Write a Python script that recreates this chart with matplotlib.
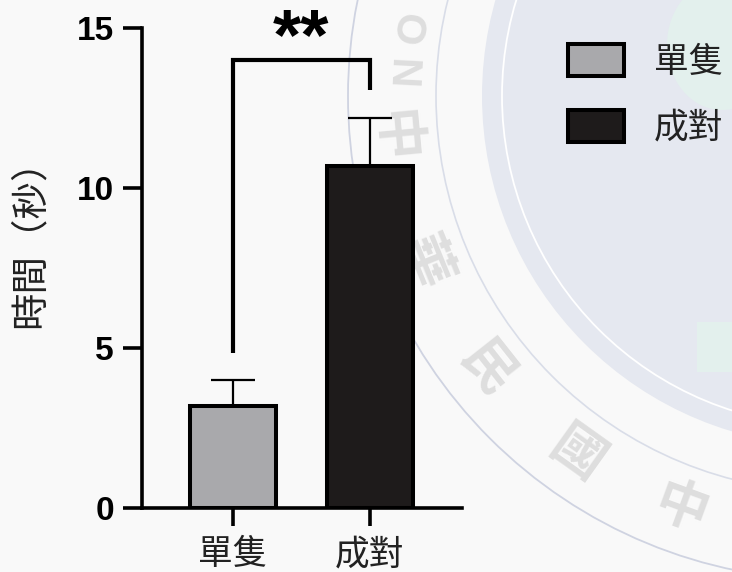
import numpy as np
import matplotlib
matplotlib.use("Agg")
import matplotlib.pyplot as plt
from matplotlib.patches import Circle, Rectangle, Ellipse, Patch
from matplotlib.font_manager import FontProperties

# ---- data ----
groups = ["單隻", "成對"]
mean_time = [3.2, 10.7]
sem_time = [0.8, 1.5]
y_ticks = [0, 5, 10, 15]
y_label = "時間（秒）"
sig_label = "**"
bracket_top = 14.0
bracket_left_end = 4.85
bracket_right_end = 13.05

bar_colors = ["#a9a9ac", "#1e1b1b"]
cjk = FontProperties(family=["Noto Sans CJK TC", "DejaVu Sans"], size=25)
cjk_label = FontProperties(family=["Noto Sans CJK TC", "DejaVu Sans"], size=27)
num_font = dict(family="Liberation Sans", weight="bold")

W, H = 732, 572
fig = plt.figure(figsize=(W / 100, H / 100), dpi=100, facecolor="#f9f9f9")

# ---- faint seal watermark in the background (pixel coordinates) ----
bg = fig.add_axes([0, 0, 1, 1], zorder=0)
bg.set_xlim(0, W)
bg.set_ylim(H, 0)
bg.axis("off")
cx, cy = 832, 96
bg.add_patch(Circle((cx, cy), 484, fill=False, ec="#cfd3e1", lw=1.3))
bg.add_patch(Circle((cx, cy), 396, fill=False, ec="#d9dde8", lw=1.2))
bg.add_patch(Circle((cx, cy), 350, fc="#e5e8f0", ec="none"))
bg.add_patch(Circle((cx, cy), 330, fill=False, ec="white", lw=1.3))
bg.add_patch(Ellipse((722, 45), 110, 130, fc="#e3f0ed", ec="none"))
bg.add_patch(Rectangle((697, 322), 40, 50, fc="#e3f0ed", ec="none"))
seal_chars = ["中", "華", "民", "國", "中"]
seal_angles = [174.7, 157.8, 141.7, 125.5, 110.1]
for ch, th in zip(seal_chars, seal_angles):
    t = np.deg2rad(th)
    px, py = cx + 440 * np.cos(t), cy + 440 * np.sin(t)
    bg.text(px, py, ch, ha="center", va="center", rotation=90 - th,
            fontsize=38, fontweight="bold", color="#dedede",
            family=["Noto Sans CJK TC"])
for ch, th in zip(["O", "N"], [189.0, 183.0]):
    t = np.deg2rad(th)
    px, py = cx + 432 * np.cos(t), cy + 432 * np.sin(t)
    bg.text(px, py, ch, ha="center", va="center", rotation=90 - th,
            fontsize=30, fontweight="bold", color="#dedede",
            family="Liberation Sans")

# ---- main bar chart ----
ax = fig.add_axes([142 / W, 64 / H, 320 / W, 480 / H], zorder=2)
ax.set_facecolor("none")
x = np.arange(len(groups))
ax.bar(x, mean_time, width=0.63, color=bar_colors, edgecolor="black",
       linewidth=2.9, zorder=3)
ax.errorbar(x, mean_time, yerr=[np.zeros(len(x)), sem_time], fmt="none",
            ecolor="black", elinewidth=1.6, capsize=16, capthick=1.6, zorder=2)

ax.plot([x[0], x[0], x[1], x[1]],
        [bracket_left_end, bracket_top, bracket_top, bracket_right_end],
        color="black", lw=3, solid_joinstyle="miter", solid_capstyle="butt",
        clip_on=False, zorder=4)
ax.text((x[0] + x[1]) / 2, 14.62, sig_label, ha="center", va="center",
        fontsize=52, clip_on=False, **num_font)

ax.set_xlim(-0.664, 1.672)
ax.set_ylim(0, 15)
for s in ["top", "right"]:
    ax.spines[s].set_visible(False)
for s in ["left", "bottom"]:
    ax.spines[s].set_linewidth(2.6)

ax.set_yticks(y_ticks)
ax.set_yticklabels([str(v) for v in y_ticks], fontsize=24, **num_font)
ax.set_xticks(x)
ax.set_xticklabels(groups, fontproperties=cjk, color="#222222")
ax.tick_params(axis="y", length=13.7, width=2.6, pad=6.5)
ax.tick_params(axis="x", length=13, width=2.6, pad=8)

ax.set_ylabel(y_label, fontproperties=cjk_label, color="#222222")
ax.yaxis.set_label_coords(-0.29, 0.57)

handles = [Patch(facecolor=c, edgecolor="black", linewidth=2.9, label=g)
           for c, g in zip(bar_colors, groups)]
ax.legend(handles=handles, loc="upper left", bbox_to_anchor=(568 / W, 1 - 44 / H),
          bbox_transform=fig.transFigure, frameon=False, prop=cjk,
          handlelength=1.62, handleheight=1.05, handletextpad=0.85,
          labelspacing=0.86, borderpad=0, borderaxespad=0, labelcolor="#222222")

fig.savefig("out.png", dpi=100, facecolor=fig.get_facecolor())
